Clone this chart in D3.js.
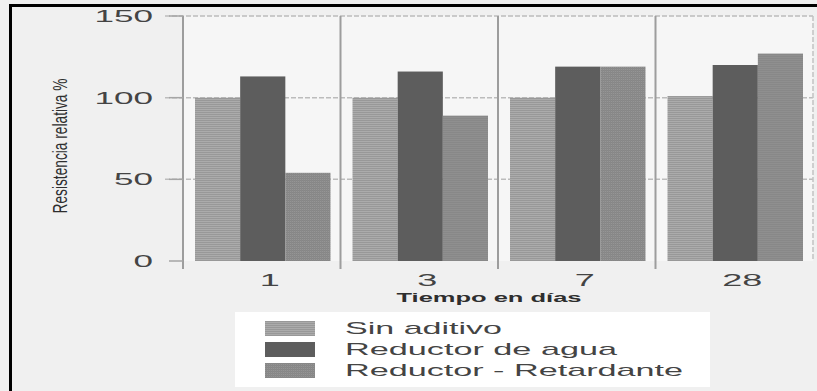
<!DOCTYPE html>
<html>
<head>
<meta charset="utf-8">
<script src="https://cdn.jsdelivr.net/npm/d3@7/dist/d3.min.js"></script>
<style>
  html, body { margin: 0; padding: 0; background: #f1f1f1; }
  svg { display: block; }
</style>
</head>
<body>
<svg id="chart" width="817" height="391"></svg>
<script>
// Relative strength (%) by curing age, for three admixture cases
const days = ["1", "3", "7", "28"];
const seriesNames = ["Sin aditivo", "Reductor de agua", "Reductor - Retardante"];
const sinAditivo = [100, 100, 100, 101];
const reductorAgua = [113, 116, 119, 120];
const reductorRetardante = [54, 89, 119, 127];
const yTicks = [0, 50, 100, 150];

const seriesValues = [sinAditivo, reductorAgua, reductorRetardante];
const fills = ["url(#hStripe)", "#5d5d5d", "url(#grid)"];

const W = 817, H = 391;
const plot = { left: 183, right: 813, top: 16, bottom: 261 };

const svg = d3.select("#chart");

// Fill patterns for the printed look of the bars
const defs = svg.append("defs");
const ps = defs.append("pattern").attr("id", "hStripe")
  .attr("patternUnits", "userSpaceOnUse").attr("width", 4).attr("height", 2);
ps.append("rect").attr("width", 4).attr("height", 2).attr("fill", "#ababab");
ps.append("rect").attr("width", 4).attr("height", 1).attr("fill", "#989898");

const pg = defs.append("pattern").attr("id", "grid")
  .attr("patternUnits", "userSpaceOnUse").attr("width", 2).attr("height", 2);
pg.append("rect").attr("width", 2).attr("height", 2).attr("fill", "#959595");
pg.append("rect").attr("width", 2).attr("height", 1).attr("fill", "#868686");
pg.append("rect").attr("width", 1).attr("height", 2).attr("fill", "#898989");

// Page background and plot panel
svg.append("rect").attr("width", W).attr("height", H).attr("fill", "#f0f0f0");
svg.append("rect")
  .attr("x", plot.left).attr("y", plot.top)
  .attr("width", plot.right - plot.left).attr("height", plot.bottom - plot.top)
  .attr("fill", "#f6f6f6");

// Scales
const x = d3.scaleBand().domain(days).range([plot.left, plot.right]).padding(0);
const xInner = d3.scaleBand().domain(seriesNames).range([12, x.bandwidth() - 10]).padding(0);
const y = d3.scaleLinear().domain([0, 150]).range([plot.bottom, plot.top]);

// Dashed gridlines
svg.append("g").selectAll("line")
  .data(yTicks.filter(d => d > 0))
  .join("line")
  .attr("x1", plot.left - 18).attr("x2", plot.right)
  .attr("y1", d => y(d)).attr("y2", d => y(d))
  .attr("stroke", "#bcbcbc").attr("stroke-width", 1.5)
  .attr("stroke-dasharray", "5,2");

// Right border of the plot
svg.append("line")
  .attr("x1", plot.right).attr("x2", plot.right)
  .attr("y1", plot.top).attr("y2", plot.bottom)
  .attr("stroke", "#c2c2c2").attr("stroke-width", 1.5).attr("stroke-dasharray", "5,2");

// Bars
const groups = svg.append("g").selectAll("g")
  .data(days)
  .join("g")
  .attr("transform", d => `translate(${x(d)},0)`);

groups.selectAll("rect")
  .data((d, i) => seriesNames.map((s, k) => ({ s, k, v: seriesValues[k][i] })))
  .join("rect")
  .attr("x", d => xInner(d.s))
  .attr("width", xInner.bandwidth())
  .attr("y", d => y(d.v))
  .attr("height", d => y(0) - y(d.v))
  .attr("fill", d => fills[d.k]);

// Left axis line, group dividers and tick marks
const dividers = [plot.left].concat(days.slice(1).map(d => x(d)));
svg.append("g").selectAll("line")
  .data(dividers)
  .join("line")
  .attr("x1", d => d).attr("x2", d => d)
  .attr("y1", plot.top).attr("y2", plot.bottom + 8)
  .attr("stroke", "#9d9d9d").attr("stroke-width", 2);

svg.append("g").selectAll("line")
  .data(yTicks)
  .join("line")
  .attr("x1", plot.left - 14).attr("x2", plot.left)
  .attr("y1", d => y(d)).attr("y2", d => y(d))
  .attr("stroke", "#a5a5a5").attr("stroke-width", 1.5);

// Y tick labels (wide, extended lettering)
svg.append("g").selectAll("text")
  .data(yTicks)
  .join("text")
  .attr("x", 153)
  .attr("y", d => y(d) + 6)
  .attr("text-anchor", "end")
  .attr("font-family", "Liberation Sans, Arial, sans-serif")
  .attr("font-size", 17)
  .attr("fill", "#444")
  .attr("textLength", d => String(d).length * 19.5)
  .attr("lengthAdjust", "spacingAndGlyphs")
  .text(d => d);

// Y axis title (condensed lettering)
svg.append("text")
  .attr("transform", "translate(67,146) rotate(-90)")
  .attr("text-anchor", "middle")
  .attr("font-family", "Liberation Sans Narrow, Arial Narrow, sans-serif")
  .attr("font-size", 20)
  .attr("fill", "#2e2e2e")
  .attr("textLength", 135)
  .attr("lengthAdjust", "spacingAndGlyphs")
  .text("Resistencia relativa %");

// X tick labels
svg.append("g").selectAll("text")
  .data(days)
  .join("text")
  .attr("x", d => x(d) + x.bandwidth() / 2 + 8)
  .attr("y", 286)
  .attr("text-anchor", "middle")
  .attr("font-family", "Liberation Sans, Arial, sans-serif")
  .attr("font-size", 16)
  .attr("fill", "#444")
  .attr("textLength", d => d.length * 20)
  .attr("lengthAdjust", "spacingAndGlyphs")
  .text(d => d);

// X axis title
svg.append("text")
  .attr("x", 489).attr("y", 302)
  .attr("text-anchor", "middle")
  .attr("font-family", "Liberation Sans, Arial, sans-serif")
  .attr("font-weight", "bold")
  .attr("font-size", 12)
  .attr("fill", "#2e2e2e")
  .attr("textLength", 185)
  .attr("lengthAdjust", "spacingAndGlyphs")
  .text("Tiempo en días");

// Legend
const legend = svg.append("g");
legend.append("rect")
  .attr("x", 235).attr("y", 312).attr("width", 475).attr("height", 75)
  .attr("fill", "#ffffff");
const legendLen = [157, 272, 338];
const rows = legend.selectAll("g.row")
  .data(seriesNames)
  .join("g")
  .attr("class", "row")
  .attr("transform", (d, i) => `translate(0,${321 + i * 21})`);
rows.append("rect")
  .attr("x", 265).attr("y", 0).attr("width", 50).attr("height", 15)
  .attr("fill", (d, i) => fills[i]);
rows.append("text")
  .attr("x", 345).attr("y", 13)
  .attr("font-family", "Liberation Sans, Arial, sans-serif")
  .attr("font-size", 17)
  .attr("fill", "#444")
  .attr("textLength", (d, i) => legendLen[i])
  .attr("lengthAdjust", "spacingAndGlyphs")
  .text(d => d);

// Outer frame (top and left edges)
svg.append("line").attr("x1", 9).attr("x2", W).attr("y1", 5.5).attr("y2", 5.5)
  .attr("stroke", "#000").attr("stroke-width", 3);
svg.append("line").attr("x1", 10.5).attr("x2", 10.5).attr("y1", 4).attr("y2", H)
  .attr("stroke", "#000").attr("stroke-width", 3);
</script>
</body>
</html>
